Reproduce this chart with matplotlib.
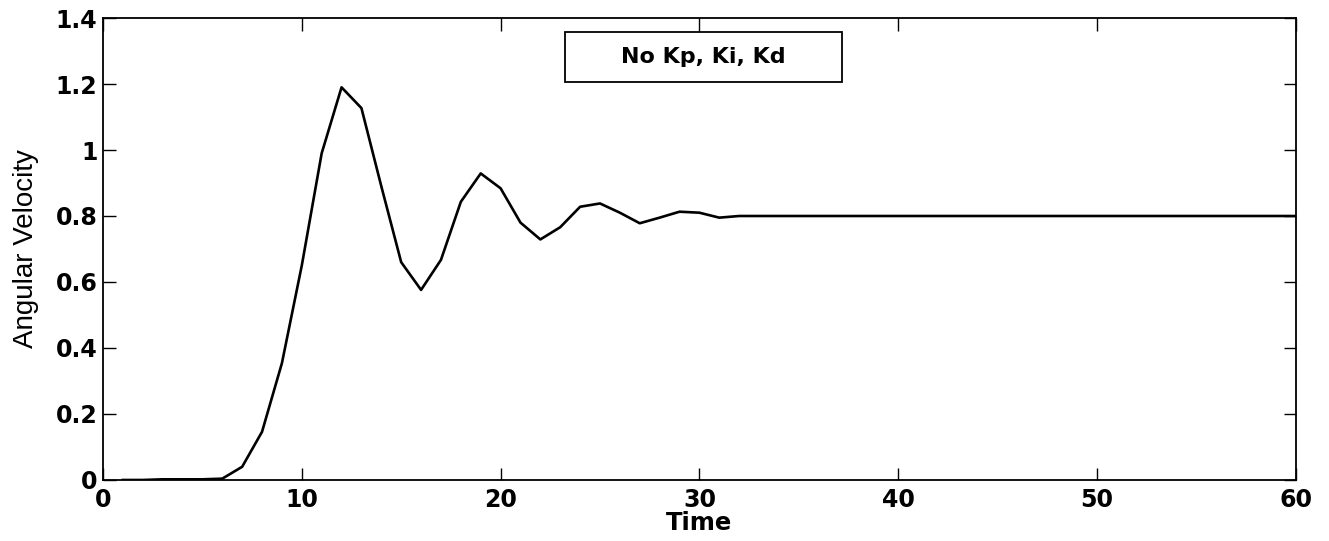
import matplotlib
matplotlib.use('Agg')
import matplotlib.pyplot as plt
from matplotlib.patches import Rectangle

# step response, one value per time step
time = list(range(1, 61))
velocity = [0.0, 0.0, 0.002, 0.002, 0.002, 0.004, 0.04, 0.146, 0.354, 0.65,
            0.99, 1.19, 1.127, 0.89, 0.66, 0.576, 0.667, 0.843, 0.929, 0.884,
            0.78, 0.729, 0.766, 0.828, 0.838, 0.81, 0.778, 0.795, 0.813, 0.81,
            0.795, 0.80] + [0.80] * 28

xticks = [0, 10, 20, 30, 40, 50, 60]
yticks = [0, 0.2, 0.4, 0.6, 0.8, 1.0, 1.2, 1.4]
yticklabels = ['0', '0.2', '0.4', '0.6', '0.8', '1', '1.2', '1.4']
legend_text = 'No Kp, Ki, Kd'

plt.rcParams['font.family'] = ['DejaVu Sans']

fig = plt.figure(figsize=(13.29, 5.41), dpi=100)
ax = fig.add_axes([0.0775, 0.1128, 0.8975, 0.8539])

ax.plot(time, velocity, color='black', linewidth=1.9)

ax.set_xlim(0, 60)
ax.set_ylim(0, 1.4)
ax.set_xticks(xticks)
ax.set_yticks(yticks)
ax.set_yticklabels(yticklabels)
ax.tick_params(direction='in', length=9, width=1.0, top=True, right=True,
               labelsize=17)
ax.tick_params(axis='x', pad=6)
ax.tick_params(axis='y', pad=4)
for lab in ax.get_xticklabels() + ax.get_yticklabels():
    lab.set_fontweight('bold')
for s in ax.spines.values():
    s.set_linewidth(1.3)

ax.set_xlabel('Time', fontsize=17.5, fontweight='bold', labelpad=-1)
ax.set_ylabel('Angular Velocity', fontsize=20, family='Liberation Sans', labelpad=12)

# boxed label like the matlab legend
ax.add_patch(Rectangle((0.3873, 0.8615), 0.2322, 0.1082, transform=ax.transAxes,
                       facecolor='white', edgecolor='black', linewidth=1.3, zorder=5))
ax.text(0.5034, 0.9156, legend_text, transform=ax.transAxes, ha='center', va='center',
        fontsize=16, fontweight='bold', zorder=6)

fig.savefig('out.png', dpi=100)
